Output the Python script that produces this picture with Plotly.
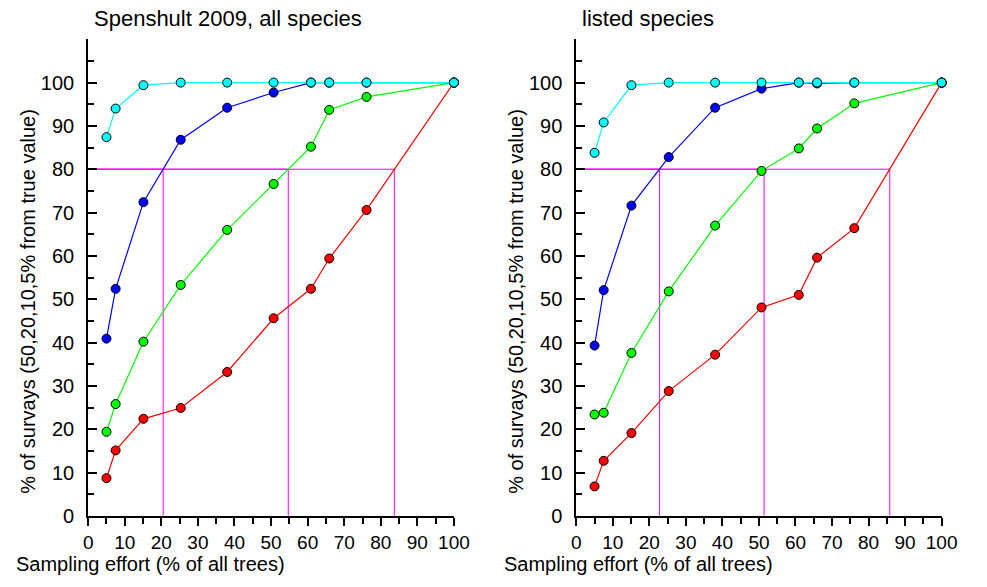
import plotly.graph_objects as go

# Sampling effort (% of all trees)
effort = [5.0, 7.5, 15.1, 25.3, 38.0, 50.7, 60.9, 65.9, 76.1, 100]

# Left panel: all species
all_cyan = [87.4, 94.0, 99.4, 100, 100, 100, 100, 100, 100, 100]
all_blue = [40.9, 52.4, 72.4, 86.8, 94.2, 97.7, 100, 100, 100, 100]
all_green = [19.4, 25.8, 40.2, 53.3, 66.0, 76.6, 85.2, 93.7, 96.7, 100]
all_red = [8.7, 15.1, 22.4, 24.9, 33.2, 45.6, 52.4, 59.4, 70.6, 100]
all_thresholds = [20.5, 54.7, 83.7]

# Right panel: listed species
lst_cyan = [83.8, 90.8, 99.4, 100, 100, 100, 100, 100, 100, 100]
lst_blue = [39.3, 52.1, 71.6, 82.8, 94.2, 98.6, 100, 99.8, 100, 100]
lst_green = [23.4, 23.8, 37.6, 51.8, 67.0, 79.6, 84.8, 89.4, 95.2, 100]
lst_red = [6.8, 12.7, 19.1, 28.8, 37.2, 48.1, 51.0, 59.6, 66.4, 100]
lst_thresholds = [22.8, 51.4, 85.8]

level = 80
xticks = list(range(0, 101, 10))
yticks = list(range(0, 101, 10))

FONT = "Liberation Sans, Arial, sans-serif"
W, H = 987, 587

fig = go.Figure()

def add_panel(xa, ya, cyan, blue, green, red, thresholds):
    for t in thresholds:
        fig.add_trace(go.Scatter(x=[0, t, t], y=[level, level, 0], mode="lines",
                                 line=dict(color="#ff00ff", width=1),
                                 xaxis=xa, yaxis=ya, showlegend=False, hoverinfo="skip"))
    for ys, col in [(red, "#ff0000"), (green, "#00ff00"), (blue, "#0000ff"), (cyan, "#00ffff")]:
        fig.add_trace(go.Scatter(x=effort, y=ys, mode="lines+markers",
                                 line=dict(color=col, width=1.2),
                                 marker=dict(color=col, size=9, line=dict(color="black", width=1)),
                                 cliponaxis=False,
                                 xaxis=xa, yaxis=ya, showlegend=False))

add_panel("x", "y", all_cyan, all_blue, all_green, all_red, all_thresholds)
add_panel("x2", "y2", lst_cyan, lst_blue, lst_green, lst_red, lst_thresholds)

def xaxis_cfg(x0, x1):
    return dict(domain=[x0 / W, x1 / W], range=[0, 100], tickvals=xticks,
                showline=True, linecolor="black", linewidth=2, ticks="outside",
                ticklen=8, tickwidth=1.5, tickcolor="black", showgrid=False, zeroline=False,
                tickfont=dict(family=FONT, size=19, color="black"),
                minor=dict(tickvals=list(range(5, 100, 10)), ticks="outside", ticklen=6,
                           tickwidth=1.5, tickcolor="black", showgrid=False),
                fixedrange=True)

def yaxis_cfg(anchor):
    return dict(domain=[(H - 525.7) / H, (H - 40) / H], range=[0, 110], tickvals=yticks,
                anchor=anchor,
                showline=True, linecolor="black", linewidth=2, ticks="inside",
                ticklen=9, tickwidth=1.5, tickcolor="black", showgrid=False, zeroline=False,
                ticklabelstandoff=8,
                tickfont=dict(family=FONT, size=20, color="black"),
                minor=dict(tickvals=list(range(5, 110, 10)), ticks="inside", ticklen=6,
                           tickwidth=1.5, tickcolor="black", showgrid=False),
                fixedrange=True)

fig.update_layout(
    width=W, height=H, autosize=False, margin=dict(l=0, r=0, t=0, b=0),
    paper_bgcolor="white", plot_bgcolor="white",
    font=dict(family=FONT, size=20, color="black"),
    xaxis=dict(anchor="y", **xaxis_cfg(85, 458.7)),
    yaxis=yaxis_cfg("x"),
    xaxis2=dict(anchor="y2", **xaxis_cfg(583.7, 957)),
    yaxis2=yaxis_cfg("x2"),
)

ann = []
for off, title in [(0, "Spenshult 2009, all species"), (498.7, "listed species")]:
    ann.append(dict(text=title, x=(89 + off) / W, y=1 - 19 / H, xref="paper", yref="paper",
                    xanchor="left", yanchor="middle", showarrow=False,
                    font=dict(family=FONT, size=22, color="black")))
    ann.append(dict(text="Sampling effort (% of all trees)", x=(10 + off) / W, y=0,
                    xref="paper", yref="paper", xanchor="left", yanchor="bottom",
                    showarrow=False, borderpad=0,
                    font=dict(family=FONT, size=20, color="black")))
    ann.append(dict(text="% of survays (50,20,10,5% from true value)", x=(24 + off) / W,
                    y=1 - 307 / H, xref="paper", yref="paper", xanchor="center",
                    yanchor="middle", textangle=-90, showarrow=False,
                    font=dict(family=FONT, size=20, color="black")))
fig.update_layout(annotations=ann)

fig.write_html("out.html", config={"displayModeBar": False})
